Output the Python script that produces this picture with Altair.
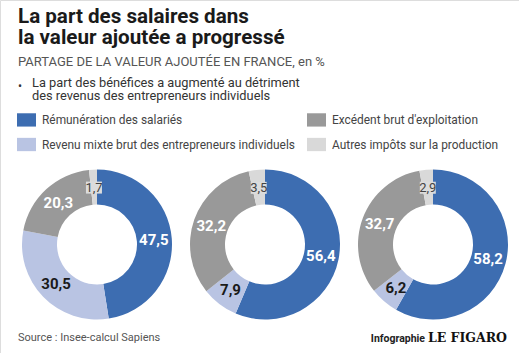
import math
import altair as alt
import pandas as pd

# ---------------- data ----------------
panels = ["Panneau 1", "Panneau 2", "Panneau 3"]
categories = [
    "Rémunération des salariés",
    "Revenu mixte brut des entrepreneurs individuels",
    "Excédent brut d'exploitation",
    "Autres impôts sur la production",
]
remuneration = [47.5, 56.4, 58.2]
revenu_mixte = [30.5, 7.9, 6.2]
excedent = [20.3, 32.2, 32.7]
autres = [1.7, 3.5, 2.9]

title_lines = ["La part des salaires dans", "la valeur ajoutée a progressé"]
subtitle_text = "PARTAGE DE LA VALEUR AJOUTÉE EN FRANCE, en %"
bullet_text = "La part des bénéfices a augmenté au détriment\ndes revenus des entrepreneurs individuels"
source_text = "Source : Insee-calcul Sapiens"
credit_text = "Infographie"
brand_text = "LE FIGARO"

# ---------------- table ----------------
series = [remuneration, revenu_mixte, excedent, autres]
rows = []
for i, p in enumerate(panels):
    cum = 0.0
    for k, cat in enumerate(categories):
        v = series[k][i]
        rows.append(dict(panel=p, cat=cat, value=v, start=cum, end=cum + v,
                         mid=cum + v / 2, label=f"{v:.1f}".replace(".", ",")))
        cum += v
df = pd.DataFrame(rows)

legend_colors = ["#3d6db1", "#b9c4e3", "#999999", "#d9d9d9"]

FONT = "Roboto"
theta_scale = alt.Scale(domain=[0, 100], range=[0, 2 * math.pi])
x_enc = alt.X("panel:N", scale=alt.Scale(type="point", range=[97, 433], padding=0), axis=None)
y_val = alt.value(244.5)

base = alt.Chart(df)

arcs = base.mark_arc(radius=75, radius2=40).encode(
    x=x_enc,
    y=y_val,
    theta=alt.Theta("start:Q", scale=theta_scale, stack=False),
    theta2=alt.Theta2("end:Q"),
    color=alt.Color(
        "cat:N",
        scale=alt.Scale(domain=categories, range=legend_colors),
        legend=alt.Legend(
            title=None, orient="none", legendX=17, legendY=110, columns=2,
            direction="vertical",
            symbolType="M-1,-0.7L1,-0.7L1,0.7L-1,0.7Z", symbolSize=361,
            symbolStrokeWidth=0, labelFont=FONT, labelFontSize=11.9,
            labelColor="#444444", labelOffset=6, rowPadding=8,
            columnPadding=12, labelLimit=400,
        ),
    ),
)

# background boxes for the small labels
boxes = base.transform_filter(
    alt.datum.cat == categories[3]
).transform_calculate(
    dx="sin(datum.mid / 100 * 2 * PI)",
    dy="-cos(datum.mid / 100 * 2 * PI)",
).mark_point(
    shape="M-1,-0.75L1,-0.75L1,0.75L-1,0.75Z", filled=True, size=256,
    color="#dcdcdc", opacity=1, strokeWidth=0,
).encode(
    x=x_enc,
    y=y_val,
    xOffset=alt.XOffset("dx:Q", scale=alt.Scale(domain=[-1, 1], range=[-57, 57])),
    yOffset=alt.YOffset("dy:Q", scale=alt.Scale(domain=[-1, 1], range=[-57, 57])),
)


def labels(cats, color, size, weight):
    return base.transform_filter(
        alt.FieldOneOfPredicate(field="cat", oneOf=cats)
    ).mark_text(
        radius=57, font=FONT, fontSize=size, fontWeight=weight, color=color,
        align="center", baseline="middle",
    ).encode(
        x=x_enc,
        y=y_val,
        theta=alt.Theta("mid:Q", scale=theta_scale, stack=False),
        text="label:N",
    )


lab_white = labels([categories[0], categories[2]], "white", 15, "bold")
lab_dark = labels([categories[1]], "#1a1a1a", 15, "bold")
lab_small = labels([categories[3]], "#444444", 13, "normal")


def note(text, x, y, size, color, weight="normal", align="left", font=FONT, line_height=None):
    kw = {}
    if line_height is not None:
        kw["lineHeight"] = line_height
    return alt.Chart(pd.DataFrame({"t": [text]})).mark_text(
        font=font, fontSize=size, fontWeight=weight, color=color, align=align,
        baseline="alphabetic", lineBreak="\n", **kw,
    ).encode(x=alt.value(x), y=alt.value(y), text="t:N")


title1 = note(title_lines[0], 18, 22.5, 20.6, "#1a1a1a", "bold")
title2 = note(title_lines[1], 18, 44, 20.6, "#1a1a1a", "bold")
subtitle = note(subtitle_text, 18, 65.5, 13, "#555555")
bullet = note("•", 18, 89.5, 12, "#333333")
bullet_t = note(bullet_text, 32, 86.5, 12.8, "#333333", line_height=13.8)
source = note(source_text, 18, 341, 11, "#555555")
credit = note(credit_text, 425, 342, 10.5, "#222222", "bold", align="right")
brand = note(brand_text, 507, 342, 12.5, "#111111", "bold", align="right", font="DejaVu Serif")

chart = alt.layer(
    arcs, boxes, lab_white, lab_dark, lab_small,
    title1, title2, subtitle, bullet, bullet_t, source, credit, brand,
).properties(
    width=519, height=353,
    autosize=alt.AutoSizeParams(type="none"),
    padding=0,
).configure_view(strokeWidth=0).configure(background="white")

chart.save("out.html", embed_options={"renderer": "svg", "actions": False})
